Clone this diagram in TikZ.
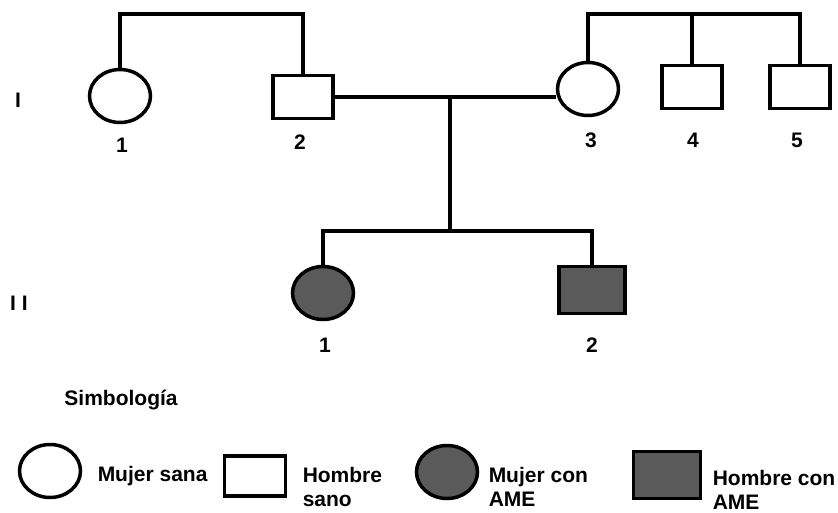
\documentclass[tikz,border=0pt]{standalone}
\usepackage{fontspec}
\setmainfont{Liberation Sans}
\usetikzlibrary{shapes.geometric,positioning}
\definecolor{amegray}{RGB}{90,90,90}

\begin{document}
\begin{tikzpicture}
[x=1pt,y=-1pt,line width=3.5pt,
female/.style={ellipse,draw,inner sep=0pt,minimum width=61pt,minimum height=53pt},
male/.style={rectangle,draw,inner sep=0pt,minimum width=60pt,minimum height=43pt},
ame/.style={fill=amegray},
lbl/.style={font=\fontsize{21}{24}\selectfont\bfseries,inner sep=0pt},
legtxt/.style={lbl,align=left,anchor=west}]
\useasboundingbox (0,0) rectangle (838,513);

% generation I
\node (i1) at (120,96) [female] {};
\node (i2) at (303,97) [male] {};
\node (i3) at (588,89) [female] {};
\node (i4) at (692,87) [male] {};
\node (i5) at (800,87) [male] {};

% generation II
\node (ii1) at (323,293) [female,ame] {};
\node (ii2) at (592,290) [male,ame,minimum width=66pt,minimum height=47pt] {};

% numbers
\node (n1) at (122,145) [lbl] {1};
\node (n2) at (300,142) [lbl] {2};
\node (n3) at (591,140) [lbl] {3};
\node (n4) at (693,140) [lbl] {4};
\node (n5) at (797,140) [lbl] {5};
\node (m1) at (325,345) [lbl] {1};
\node (m2) at (592,345) [lbl] {2};
\node (gI) at (18,100) [lbl] {I};
\node (gII) at (19,303) [lbl] {I I};

% lines
\coordinate (top) at (0,14);
\coordinate (mate) at (450,97);
\coordinate (sib) at (0,231);
\draw (i1.north) -- (i1.north |- top) -- (i2.north |- top) -- (i2.north);
\draw (i3.north) -- (i3.north |- top) -- (i5.north |- top) -- (i5.north);
\draw (i4.north) -- (i4.north |- top);
\draw (i2.east) -- (i2.east -| i3.west);
\draw (mate) -- (mate |- sib);
\draw (ii1.north) -- (ii1.north |- sib) -- (ii2.north |- sib) -- (ii2.north);

% legend
\node (simb) at (121,400) [lbl] {Simbología};
\node (lf) at (50,471) [female] {};
\node (lft) at (96,476) [legtxt] {Mujer sana};
\node (lm) at (255,476) [male,minimum width=61pt,minimum height=40pt] {};
\node (lmt) at (301,487) [legtxt] {Hombre\\sano};
\node (laf) at (447,472) [female,ame] {};
\node (laft) at (487,487) [legtxt] {Mujer con\\AME};
\node (lam) at (667,475) [male,ame,minimum width=67pt,minimum height=47pt] {};
\node (lamt) at (711,490) [legtxt] {Hombre con\\AME};

\end{tikzpicture}
\end{document}
